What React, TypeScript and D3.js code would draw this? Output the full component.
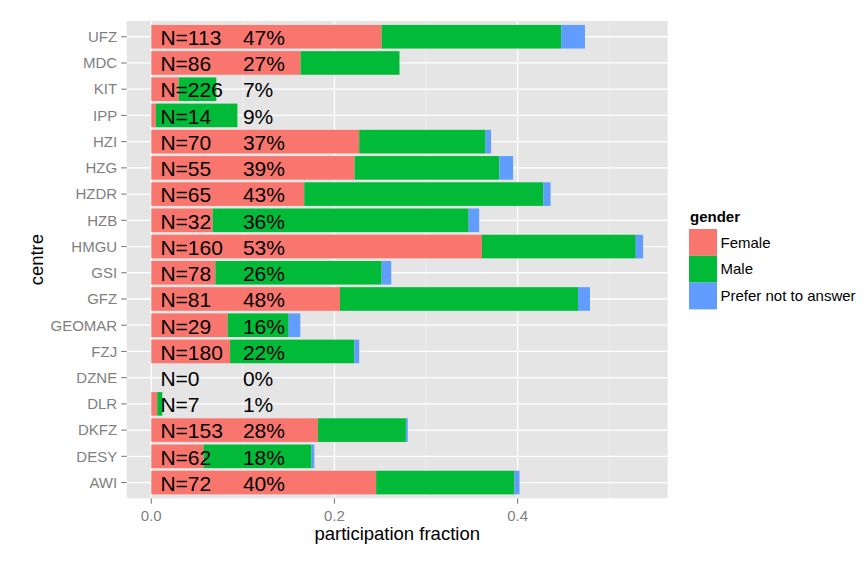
import React from "react";
import * as d3 from "d3";

// centres, top to bottom as drawn
const centres = [
    "UFZ", "MDC", "KIT", "IPP", "HZI", "HZG", "HZDR", "HZB", "HMGU",
    "GSI", "GFZ", "GEOMAR", "FZJ", "DZNE", "DLR", "DKFZ", "DESY", "AWI",
];
// fraction of staff per gender (stacked)
const female = [
    0.2515, 0.163, 0.030, 0.005, 0.227, 0.222, 0.167, 0.067, 0.361,
    0.070, 0.206, 0.0835, 0.086, 0, 0.0065, 0.182, 0.057, 0.2455,
];
const male = [
    0.196, 0.108, 0.041, 0.089, 0.138, 0.158, 0.261, 0.2795, 0.168,
    0.1815, 0.260, 0.0665, 0.1357, 0, 0.0055, 0.096, 0.118, 0.151,
];
const preferNot = [
    0.026, 0, 0, 0, 0.006, 0.015, 0.008, 0.0115, 0.008,
    0.0105, 0.013, 0.0127, 0.0053, 0, 0, 0.002, 0.003, 0.0055,
];
const counts = [113, 86, 226, 14, 70, 55, 65, 32, 160, 78, 81, 29, 180, 0, 7, 153, 62, 72];
const percents = ["47%", "27%", "7%", "9%", "37%", "39%", "43%", "36%", "53%", "26%", "48%", "16%", "22%", "0%", "1%", "28%", "18%", "40%"];

const genders = ["Female", "Male", "Prefer not to answer"];
const colours = ["#F8766D", "#00BA38", "#619CFF"];
const majorTicks = [0, 0.2, 0.4];
const minorTicks = [0.1, 0.3, 0.5];

const W = 867;
const H = 565;
const panel = { left: 126.7, right: 667.7, top: 21, bottom: 498.3 };
const font = "'Liberation Sans', Arial, sans-serif";

const App: React.FC = () => {
    const totals = centres.map((_, i) => female[i] + male[i] + preferNot[i]);
    const xMax = d3.max(totals)!;
    const pad = xMax * 0.05;

    const x = d3.scaleLinear().domain([-pad, xMax + pad]).range([panel.left, panel.right]);
    const y = d3
        .scaleBand<string>()
        .domain(centres)
        .range([panel.top, panel.bottom])
        .paddingInner(0.1)
        .paddingOuter(0.15);

    const rows = centres.map((c, i) => ({
        centre: c,
        female: female[i],
        male: male[i],
        prefer: preferNot[i],
    }));
    const stacked = d3.stack<any>().keys(["female", "male", "prefer"])(rows);

    const mid = (c: string) => y(c)! + y.bandwidth() / 2;

    return (
        <svg
            width={W}
            height={H}
            style={{ position: "absolute", left: 0, top: 0, background: "#fff" }}
            fontFamily={font}
        >
            <rect
                x={panel.left}
                y={panel.top}
                width={panel.right - panel.left}
                height={panel.bottom - panel.top}
                fill="#E5E5E5"
            />
            {minorTicks.map(t => (
                <line key={"mn" + t} x1={x(t)} x2={x(t)} y1={panel.top} y2={panel.bottom} stroke="#F2F2F2" strokeWidth={0.7} />
            ))}
            {majorTicks.map(t => (
                <line key={"mj" + t} x1={x(t)} x2={x(t)} y1={panel.top} y2={panel.bottom} stroke="#fff" strokeWidth={1.3} />
            ))}
            {centres.map(c => (
                <line key={"gy" + c} x1={panel.left} x2={panel.right} y1={mid(c)} y2={mid(c)} stroke="#fff" strokeWidth={1.3} />
            ))}

            {/* stacked bars */}
            {stacked.map((layer, k) => (
                <g key={"s" + k} fill={colours[k]}>
                    {layer.map((d, i) =>
                        d[1] - d[0] > 0 ? (
                            <rect
                                key={i}
                                x={x(d[0])}
                                y={y(centres[i])}
                                width={x(d[1]) - x(d[0])}
                                height={y.bandwidth()}
                            />
                        ) : null,
                    )}
                </g>
            ))}

            {/* labels on bars */}
            {centres.map((c, i) => (
                <g key={"lb" + c} fontSize={21} fill="#000">
                    <text x={x(0.01)} y={mid(c) + 8.3}>{"N=" + counts[i]}</text>
                    <text x={x(0.1)} y={mid(c) + 8.3}>{percents[i]}</text>
                </g>
            ))}

            {/* y axis */}
            {centres.map(c => (
                <g key={"ya" + c}>
                    <line x1={panel.left - 5.5} x2={panel.left} y1={mid(c)} y2={mid(c)} stroke="#7F7F7F" strokeWidth={1.1} />
                    <text x={panel.left - 9.5} y={mid(c) + 5.3} textAnchor="end" fontSize={15} fill="#7F7F7F">
                        {c}
                    </text>
                </g>
            ))}
            {/* x axis */}
            {majorTicks.map(t => (
                <g key={"xa" + t}>
                    <line x1={x(t)} x2={x(t)} y1={panel.bottom} y2={panel.bottom + 5.5} stroke="#7F7F7F" strokeWidth={1.1} />
                    <text x={x(t)} y={panel.bottom + 22.5} textAnchor="middle" fontSize={15} fill="#7F7F7F">
                        {d3.format(".1f")(t)}
                    </text>
                </g>
            ))}
            <text x={(panel.left + panel.right) / 2} y={539.5} textAnchor="middle" fontSize={18.5} fill="#000">
                participation fraction
            </text>
            <text
                transform={`translate(42.5, ${(panel.top + panel.bottom) / 2}) rotate(-90)`}
                textAnchor="middle"
                fontSize={18.5}
                fill="#000"
            >
                centre
            </text>

            {/* legend */}
            <text x={690} y={222} fontSize={15} fontWeight="bold" fill="#000">
                gender
            </text>
            {genders.map((g, k) => (
                <g key={"lg" + g} transform={`translate(689, ${229 + k * 26.8})`}>
                    <rect width={28} height={26.8} fill={colours[k]} />
                    <text x={31.5} y={13.4 + 5.3} fontSize={15} fill="#000">
                        {g}
                    </text>
                </g>
            ))}
        </svg>
    );
};

export default App;
